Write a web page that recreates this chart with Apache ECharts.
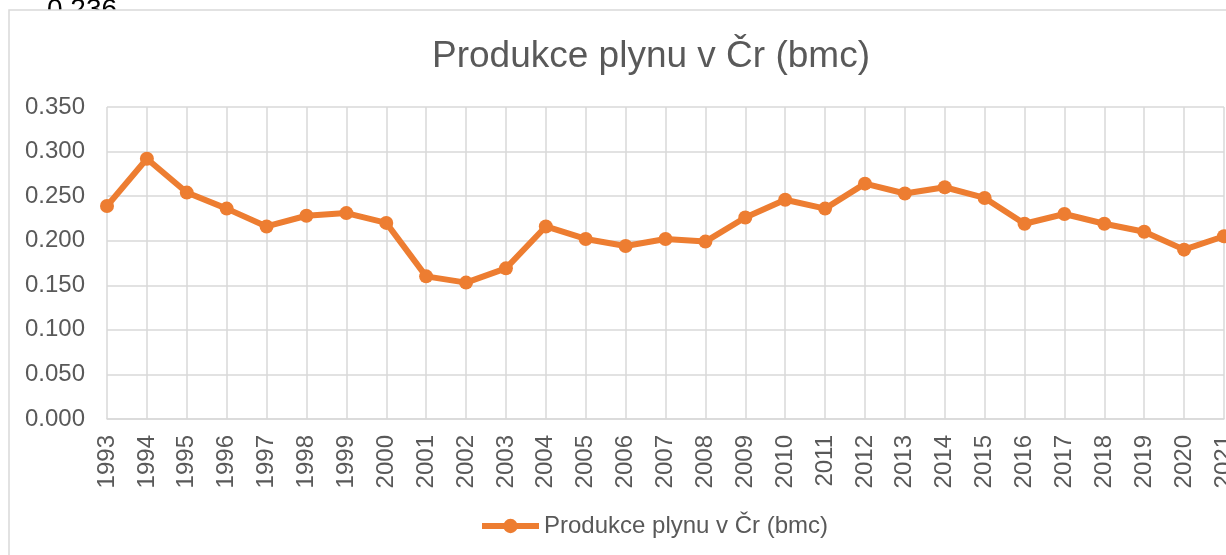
<html>
<head>
<meta charset="utf-8">
<style>
  html, body { margin: 0; padding: 0; background: #fff; }
  #chart1 { width: 1226px; height: 555px; }
</style>
</head>
<body>
<div id="chart1"></div>
<script src="https://cdn.jsdelivr.net/npm/echarts@6/dist/echarts.min.js"></script>
<script>
  // roky a hodnoty
  let years = ['1993','1994','1995','1996','1997','1998','1999','2000','2001','2002',
    '2003','2004','2005','2006','2007','2008','2009','2010','2011','2012',
    '2013','2014','2015','2016','2017','2018','2019','2020','2021'];
  let gas = [0.239, 0.292, 0.254, 0.236, 0.216, 0.228, 0.231, 0.220, 0.160, 0.153,
    0.169, 0.216, 0.202, 0.194, 0.202, 0.199, 0.226, 0.246, 0.236, 0.264,
    0.253, 0.260, 0.248, 0.219, 0.230, 0.219, 0.210, 0.190, 0.205];
  let seriesName = 'Produkce plynu v Čr (bmc)';
  let strayLabel = '0.236';

  let font = '"Liberation Sans", Arial, sans-serif';
  let grey = '#595959';
  let gridColor = '#d9d9d9';

  let myChart = echarts.init(document.getElementById('chart1'));
  let option = {
    animation: false,
    backgroundColor: '#fff',
    textStyle: { fontFamily: font },
    title: {
      text: seriesName,
      left: 427,
      top: 33,
      textStyle: { fontFamily: font, fontSize: 37, fontWeight: 'normal', color: grey }
    },
    graphic: [
      {
        type: 'text', left: 47, top: -4, z: -3,
        style: { text: strayLabel, font: '28px "Liberation Sans", Arial, sans-serif', fill: '#000' }
      },
      {
        type: 'rect', z: -2,
        shape: { x: 9, y: 10, width: 1400, height: 700 },
        style: { fill: '#fff', stroke: gridColor, lineWidth: 1.5 }
      }
    ],
    legend: {
      bottom: 12,
      left: 474,
      itemWidth: 57,
      itemHeight: 18,
      itemGap: 10,
      lineStyle: { width: 6 },
      textStyle: { fontFamily: font, fontSize: 24, color: grey },
      data: [{ name: seriesName, itemStyle: { color: '#ED7D31' } }]
    },
    grid: { left: 107, right: 2, top: 107, bottom: 136, outerBoundsMode: 'none', containLabel: false },
    xAxis: {
      type: 'category',
      data: years,
      boundaryGap: false,
      axisLine: { lineStyle: { color: gridColor, width: 1.5 } },
      axisTick: { show: false },
      splitLine: { show: true, lineStyle: { color: gridColor, width: 1.5 } },
      axisLabel: { rotate: 90, interval: 0, margin: 16, fontSize: 24, color: grey, fontFamily: font }
    },
    yAxis: {
      type: 'value',
      min: 0, max: 0.35, interval: 0.05,
      axisLine: { show: false },
      axisTick: { show: false },
      splitLine: { lineStyle: { color: gridColor, width: 1.5 } },
      axisLabel: {
        margin: 22, fontSize: 24, color: grey, fontFamily: font,
        formatter: function (v) { return v.toFixed(3); }
      }
    },
    series: [{
      name: seriesName,
      type: 'line',
      data: gas,
      symbol: 'circle',
      symbolSize: 14,
      itemStyle: { color: '#ED7D31' },
      lineStyle: { color: '#ED7D31', width: 6 }
    }]
  };
  myChart.setOption(option);
</script>
</body>
</html>
